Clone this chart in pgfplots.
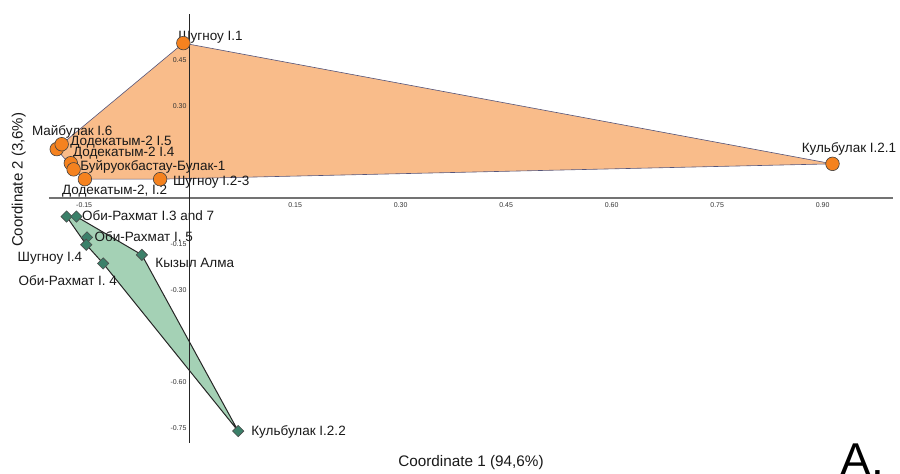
\documentclass[border=0pt]{standalone}
\usepackage{fontspec}
\setmainfont{Liberation Sans}
\usepackage{pgfplots}
\pgfplotsset{compat=1.18}
\definecolor{orfill}{HTML}{F9BC8A}
\definecolor{orpt}{HTML}{F5821F}
\definecolor{grfill}{HTML}{A4D1B5}
\definecolor{grpt}{HTML}{3B8069}
\definecolor{hulledge}{HTML}{55557A}
\tikzset{lbl/.style={anchor=west, inner sep=0pt, font=\fontsize{13.5}{15}\selectfont, text=black!90}}
\begin{document}
\begin{tikzpicture}
\begin{axis}[name=ax, scale only axis, width=844pt, height=429pt,
 xmin=-0.2, xmax=1.0, ymin=-0.8, ymax=0.6,
 axis lines=middle, axis line style={-}, axis on top, clip=false,
 x axis line style={draw=black!55, line width=1.5pt},
 y axis line style={draw=black!85, line width=0.9pt},
 xtick={-0.15,0.15,0.30,0.45,0.60,0.75,0.90},
 ytick={-0.75,-0.60,-0.30,-0.15,0.30,0.45},
 major tick length=0pt,
 /pgf/number format/.cd, fixed, fixed zerofill, precision=2, assume math mode=true, /pgfplots/.cd,
 tick label style={font=\fontsize{7}{8}\selectfont, text=black!80},
 xticklabel style={anchor=north, inner sep=0pt, yshift=-5pt},
 yticklabel style={anchor=east, inner sep=0pt, xshift=-3pt},
]
\addplot[fill=orfill, draw=hulledge, line width=0.6pt] coordinates {(-0.009,0.505) (0.914,0.111) (-0.042,0.061) (-0.149,0.061) (-0.165,0.093) (-0.189,0.159) (-0.182,0.175)} -- cycle;
\addplot[fill=grfill, draw=black!85, line width=1pt] coordinates {(-0.175,-0.061) (-0.161,-0.061) (-0.068,-0.186) (0.069,-0.761) (-0.123,-0.214) (-0.147,-0.153)} -- cycle;
\addplot[only marks, mark=*, mark size=6.8pt, mark options={fill=orpt, draw=black!75, line width=0.6pt}] coordinates {
(-0.009,0.505) (0.914,0.111) (-0.189,0.159) (-0.182,0.175) (-0.169,0.113) (-0.165,0.093) (-0.149,0.061) (-0.042,0.061)};
\addplot[only marks, mark=square*, mark size=4pt, mark options={rotate=45, fill=grpt, draw=black!70, line width=0.6pt}] coordinates {
(-0.175,-0.061) (-0.161,-0.061) (-0.146,-0.129) (-0.147,-0.153) (-0.123,-0.214) (-0.068,-0.186) (0.069,-0.761)};
\node[lbl] at (axis cs:-0.0164,0.5255) {Шугноу I.1};
\node[lbl] at (axis cs:0.870,0.158) {Кульбулак I.2.1};
\node[lbl] at (axis cs:-0.2244,0.2164) {Майбулак I.6};
\node[lbl] at (axis cs:-0.170,0.183) {Додекатым-2 I.5};
\node[lbl] at (axis cs:-0.166,0.1446) {Додекатым-2 I.4};
\node[lbl] at (axis cs:-0.1557,0.102) {Буйруокбастау-Булак-1};
\node[lbl] at (axis cs:-0.1817,0.0228) {Додекатым-2, I.2};
\node[lbl] at (axis cs:-0.0239,0.050) {Шугноу I.2-3};
\node[lbl] at (axis cs:-0.1533,-0.0587) {Оби-Рахмат I.3 and 7};
\node[lbl] at (axis cs:-0.1354,-0.1273) {Оби-Рахмат I. 5};
\node[lbl] at (axis cs:-0.2448,-0.198) {Шугноу I.4};
\node[lbl] at (axis cs:-0.049,-0.211) {Кызыл Алма};
\node[lbl] at (axis cs:-0.2434,-0.271) {Оби-Рахмат I. 4};
\node[lbl] at (axis cs:0.0874,-0.7637) {Кульбулак I.2.2};
\node[rotate=90, font=\fontsize{15}{18}\selectfont, text=black!90] at (axis cs:-0.243,0.059) {Coordinate 2 (3,6\%)};
\node[font=\fontsize{15.3}{18}\selectfont, text=black!90] at (axis cs:0.4,-0.865) {Coordinate 1 (94,6\%)};
\node[anchor=north west, inner sep=0pt, font=\fontsize{46}{50}\selectfont] at (axis cs:0.925,-0.803) {A.};
\end{axis}
\pgfresetboundingbox
\path[use as bounding box] ([shift={(-49pt,-31pt)}]ax.south west) rectangle ([shift={(7pt,14pt)}]ax.north east);
\end{tikzpicture}
\end{document}
